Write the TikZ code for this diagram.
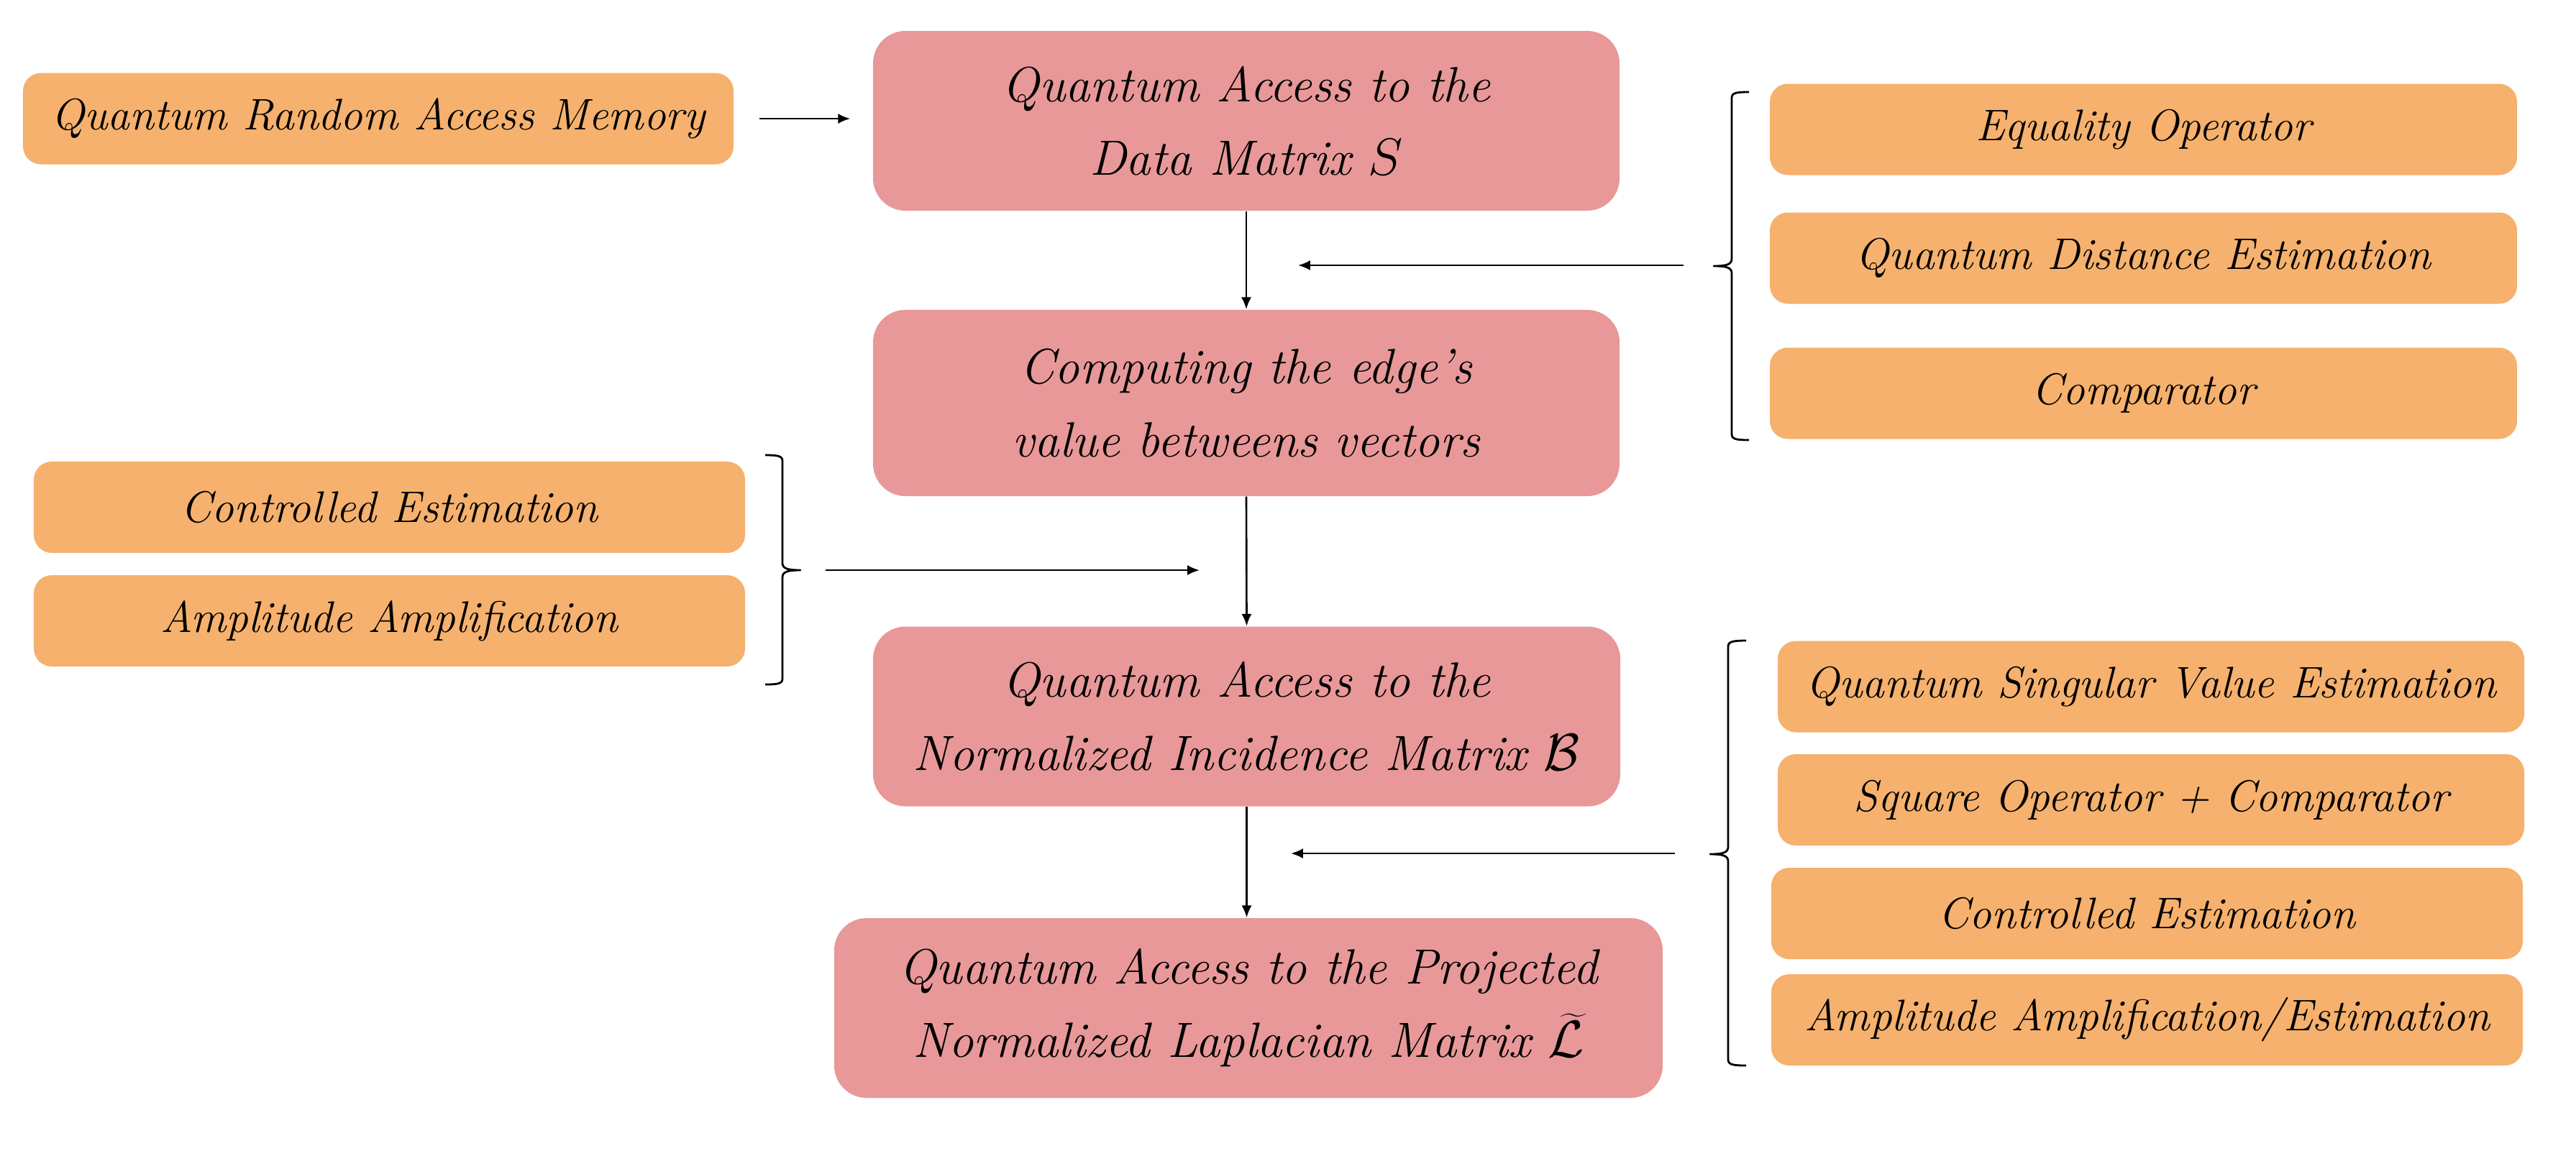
\documentclass[tikz,border=0pt]{standalone}
\usepackage{fontspec}
\usetikzlibrary{arrows.meta,calc}
\definecolor{boxorange}{RGB}{245,177,109}
\definecolor{boxpink}{RGB}{232,152,152}
\begin{document}
\begin{tikzpicture}[
  obox/.style={fill=boxorange, rounded corners=0.25cm, minimum height=1.27cm,
    inner sep=0pt, align=center, font=\fontsize{17.5}{21}\selectfont\itshape},
  pbox/.style={fill=boxpink, rounded corners=0.45cm, minimum height=2.5cm,
    inner sep=0pt, align=center, font=\fontsize{19.6}{29}\selectfont\itshape},
  arr/.style={-{Latex[length=4.8pt,width=4pt]}, line width=0.75pt},
  bracestyle/.style={line width=0.8pt, line join=round}
]
\useasboundingbox (0,0) rectangle (35.82,-16.18);

% main column
\node[pbox, minimum width=10.38cm] (data) at (17.33,-1.68) {Quantum Access to the\\Data Matrix $S$};
\node[pbox, minimum width=10.38cm, minimum height=2.59cm] (comp) at (17.33,-5.605) {Computing the edge's\\value betweens vectors};
\node[pbox, minimum width=10.39cm] (inc) at (17.335,-9.965) {Quantum Access to the\\Normalized Incidence Matrix $\mathcal{B}$};
\node[pbox, minimum width=11.52cm] (lap) at (17.36,-14.02) {Quantum Access to the Projected\\Normalized Laplacian Matrix $\widetilde{\mathcal{L}}$};

% left side
\node[obox, minimum width=9.88cm] (qram) at (5.26,-1.65) {Quantum Random Access Memory};
\node[obox, minimum width=9.89cm] (ce1) at (5.415,-7.055) {Controlled Estimation};
\node[obox, minimum width=9.89cm] (aa1) at (5.415,-8.635) {Amplitude Amplification};

% right side, group 1
\node[obox, minimum width=10.39cm] (eq) at (29.805,-1.80) {Equality Operator};
\node[obox, minimum width=10.39cm] (qde) at (29.805,-3.59) {Quantum Distance Estimation};
\node[obox, minimum width=10.39cm] (cmp) at (29.805,-5.47) {Comparator};

% right side, group 2
\node[obox, minimum width=10.38cm] (qsve) at (29.91,-9.55) {Quantum Singular Value Estimation};
\node[obox, minimum width=10.38cm] (sq) at (29.91,-11.125) {Square Operator + Comparator};
\node[obox, minimum width=10.45cm] (ce2) at (29.855,-12.705) {Controlled Estimation};
\node[obox, minimum width=10.45cm] (aae) at (29.855,-14.185) {Amplitude Amplification/Estimation};

% main arrows
\draw[arr] ([xshift=0.35cm]qram.east) -- ([xshift=-0.31cm]data.west |- qram.east);
\draw[arr] (data.south) -- (comp.north);
\draw[arr] (comp.south) -- (inc.north);
\draw[arr] (inc.south) -- (inc.south |- lap.north);

% brace 1 (right top), opening to the right, tip to the left
\draw[bracestyle] (24.32,-1.28) .. controls (24.15,-1.28) and (24.08,-1.29) .. (24.08,-1.36)
  -- (24.08,-3.60) .. controls (24.08,-3.68) and (24.00,-3.70) .. (23.83,-3.70)
  .. controls (24.00,-3.70) and (24.08,-3.72) .. (24.08,-3.80)
  -- (24.08,-6.04) .. controls (24.08,-6.11) and (24.15,-6.12) .. (24.32,-6.12);
\coordinate (a1s) at (23.41,-3.69);
\coordinate (a1e) at (18.05,-3.69);
\draw[arr] (a1s) -- (a1e);

% brace 2 (left), opening to the left, tip to the right
\draw[bracestyle] (10.64,-6.33) .. controls (10.81,-6.33) and (10.88,-6.34) .. (10.88,-6.41)
  -- (10.88,-7.83) .. controls (10.88,-7.91) and (10.96,-7.93) .. (11.13,-7.93)
  .. controls (10.96,-7.93) and (10.88,-7.95) .. (10.88,-8.03)
  -- (10.88,-9.44) .. controls (10.88,-9.51) and (10.81,-9.52) .. (10.64,-9.52);
\coordinate (a2s) at (11.48,-7.93);
\coordinate (a2e) at (16.68,-7.93);
\draw[arr] (a2s) -- (a2e);

% brace 3 (right bottom)
\draw[bracestyle] (24.28,-8.91) .. controls (24.11,-8.91) and (24.03,-8.92) .. (24.03,-8.99)
  -- (24.03,-11.78) .. controls (24.03,-11.86) and (23.95,-11.88) .. (23.78,-11.88)
  .. controls (23.95,-11.88) and (24.03,-11.90) .. (24.03,-11.98)
  -- (24.03,-14.74) .. controls (24.03,-14.81) and (24.11,-14.82) .. (24.28,-14.82);
\coordinate (a3s) at (23.29,-11.87);
\coordinate (a3e) at (17.95,-11.87);
\draw[arr] (a3s) -- (a3e);
\end{tikzpicture}
\end{document}
